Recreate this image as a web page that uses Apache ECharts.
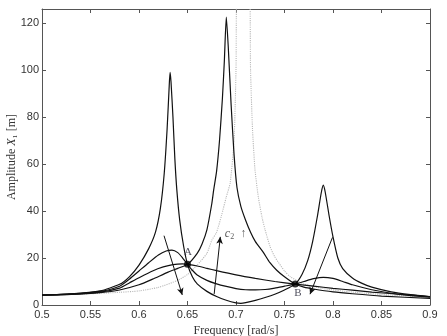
<!doctype html>
<html>
<head>
<meta charset="utf-8">
<title></title>
<script src="https://cdn.jsdelivr.net/npm/echarts@6/dist/echarts.min.js"></script>
<style type="text/css">
  html, body { margin: 0; padding: 0; background: #fff; }
  #chart { width: 447px; height: 336px; }
</style>
</head>
<body>
<div id="chart"></div>
<script type="text/javascript">
// [frequency rad/s, amplitude m]
var lowC = [[0.50,4.2],[0.53,4.7],[0.56,6.0],[0.58,8.8],[0.59,12],[0.60,17],[0.61,24],[0.617,31],[0.622,41],[0.626,56],[0.629,75],[0.631,92],[0.632,99],[0.633,95],[0.635,80],[0.637,62],[0.639,49],[0.642,36],[0.646,25],[0.65,17.3],[0.655,12],[0.66,9],[0.67,5.8],[0.68,3.6],[0.69,2.0],[0.70,0.9],[0.705,0.7],[0.71,1.0],[0.72,2.0],[0.73,3.2],[0.74,4.6],[0.75,6.4],[0.761,8.9],[0.768,13],[0.774,19],[0.779,27],[0.784,38],[0.788,48],[0.790,51],[0.792,48],[0.796,38],[0.800,29],[0.805,20],[0.81,15.5],[0.82,11.5],[0.83,9.2],[0.84,7.6],[0.86,5.6],[0.88,4.4],[0.90,3.5]];
var midC = [[0.50,4.2],[0.53,4.7],[0.56,5.8],[0.58,8.0],[0.59,11],[0.60,14.5],[0.61,18],[0.62,21.3],[0.628,23],[0.634,23.4],[0.64,22.3],[0.645,20],[0.65,17.3],[0.655,14.8],[0.66,12.8],[0.67,10.5],[0.68,9.0],[0.69,7.9],[0.70,7.0],[0.71,6.5],[0.72,6.4],[0.73,6.6],[0.74,7.2],[0.75,8.0],[0.761,8.9],[0.77,10.0],[0.78,11.2],[0.79,11.8],[0.80,11.3],[0.81,10.0],[0.82,8.6],[0.84,6.5],[0.86,5.0],[0.88,4.0],[0.90,3.3]];
var optC = [[0.50,4.2],[0.53,4.6],[0.56,5.5],[0.58,7.2],[0.59,9.4],[0.60,11.6],[0.614,14.5],[0.625,16.2],[0.635,17.2],[0.645,17.5],[0.65,17.3],[0.66,16.6],[0.67,15.6],[0.68,14.6],[0.70,12.8],[0.72,11.3],[0.74,10.0],[0.761,8.9],[0.78,8.0],[0.80,7.1],[0.82,6.3],[0.84,5.5],[0.87,4.5],[0.90,3.6]];
var highC = [[0.50,4.2],[0.53,4.5],[0.56,5.3],[0.58,6.4],[0.60,8.6],[0.614,11],[0.63,14],[0.64,15.6],[0.65,17.3],[0.66,22],[0.665,26],[0.67,32],[0.675,43],[0.677,49],[0.68,57],[0.683,70],[0.686,88],[0.688,104],[0.690,122.5],[0.692,110],[0.695,85],[0.698,64],[0.701,50],[0.705,42],[0.71,36],[0.715,31],[0.72,27],[0.728,22.5],[0.735,18],[0.742,14.8],[0.75,12],[0.761,8.9],[0.77,7.6],[0.78,6.8],[0.80,5.6],[0.82,4.8],[0.85,3.8],[0.90,2.8]];
var noAbsorber = [[0.50,4.2],[0.55,4.8],[0.58,5.4],[0.60,6.0],[0.62,7.5],[0.64,10.5],[0.65,13],[0.66,17],[0.67,22],[0.675,27.5],[0.68,31],[0.685,38],[0.69,46],[0.694,52],[0.698,70],[0.700,100],[0.7015,140],[0.7135,140],[0.715,100],[0.717,75],[0.7195,58],[0.723,46],[0.727,37],[0.73,32],[0.735,25],[0.74,20.5],[0.75,14.5],[0.756,12],[0.77,9],[0.79,7],[0.82,5.5],[0.86,4.2],[0.90,3.4]];

var fixedPoints = [[0.65,17.3],[0.761,8.9]];
var pointNames = ['A','B'];
var pointLabelPos = [[0.6505,22.6],[0.7639,5.0]];
var arrows = [
  [[0.6258,29.5],[0.6446,4.3]],
  [[0.6775,4.7],[0.6838,29.0]],
  [[0.7995,28.8],[0.7763,4.6]]
];
var c2LabelPos = [0.6995,30.2];

var xTicks = { min:0.5, max:0.9, step:0.05 };
var yTicks = { min:0, max:126, step:20 };

var chart = echarts.init(document.getElementById('chart'));
var axisColor = '#555';
var tickFont = 'Liberation Sans, Arial, sans-serif';
var serif = 'Liberation Serif, Times New Roman, serif';

function curve(name, data, style){
  return {
    name: name, type: 'line', data: data,
    showSymbol: false, smooth: 0.2, silent: true,
    xAxisIndex: 0, yAxisIndex: 0,
    lineStyle: style, z: 3
  };
}
var blackLine = { color:'#111', width:1.2 };

var series = [
  curve('no absorber', noAbsorber, { color:'#b8b8b8', width:1.1, type:'dotted' }),
  curve('c2 low', lowC, blackLine),
  curve('c2 mid', midC, blackLine),
  curve('c2 opt', optC, blackLine),
  curve('c2 high', highC, blackLine),
  {
    name:'arrows', type:'line', data:[], silent:true,
    markLine: {
      silent:true, symbol:['none','arrow'], symbolSize:[5,7],
      label:{ show:false },
      lineStyle:{ color:'#111', width:1, type:'solid' },
      data: arrows.map(function(a){ return [{coord:a[0]},{coord:a[1]}]; })
    }
  },
  {
    name:'fixed', type:'scatter', symbolSize:7, silent:true, z:5,
    itemStyle:{ color:'#000' },
    data: fixedPoints
  },
  {
    name:'labels', type:'scatter', symbolSize:0, silent:true, z:6,
    data: pointLabelPos.map(function(p,i){ return { value:p, name:pointNames[i] }; })
      .concat([{ value:c2LabelPos, name:'c2' }]),
    label:{
      show:true, position:'inside',
      fontFamily: serif, fontSize:11, color:'#223',
      formatter:function(d){
        if(d.name === 'c2') return '{i|c}{s|2}{a|  ↑}';
        return d.name;
      },
      rich:{
        i:{ fontFamily: serif, fontStyle:'italic', fontSize:12, color:'#333' },
        s:{ fontFamily: serif, fontSize:8, color:'#333', padding:[5,0,0,0] },
        a:{ fontFamily: serif, fontSize:12, color:'#333' }
      }
    }
  }
];

var option = {
  animation:false,
  backgroundColor:'#fff',
  grid:{ left:42, right:17, top:9, bottom:31, outerBoundsMode:'none', containLabel:false },
  xAxis:[{
    type:'value', min:xTicks.min, max:xTicks.max, interval:xTicks.step,
    name:'Frequency [rad/s]', nameLocation:'middle', nameGap:19,
    nameTextStyle:{ fontFamily:serif, fontSize:12, color:'#333' },
    axisLine:{ onZero:false, lineStyle:{ color:axisColor, width:1 } },
    axisTick:{ inside:true, length:4, lineStyle:{ color:axisColor } },
    axisLabel:{ fontFamily:tickFont, fontSize:11, color:'#333', margin:4,
      formatter:function(v){ return String(+v.toFixed(2)); } },
    splitLine:{ show:false }
  },{
    type:'value', position:'top', min:xTicks.min, max:xTicks.max, interval:xTicks.step,
    axisLine:{ onZero:false, lineStyle:{ color:axisColor, width:1 } },
    axisTick:{ inside:true, length:4, lineStyle:{ color:axisColor } },
    axisLabel:{ show:false }, splitLine:{ show:false }
  }],
  yAxis:[{
    type:'value', min:yTicks.min, max:yTicks.max, interval:yTicks.step,
    name:'{a|Amplitude }{i|X}{a|₁ [m]}', nameLocation:'middle', nameGap:24,
    nameMoveOverlap:false,
    nameTextStyle:{ fontFamily:serif, fontSize:12, color:'#333',
      rich:{ a:{ fontFamily:serif, fontSize:12, color:'#333' },
             i:{ fontFamily:serif, fontSize:12, fontStyle:'italic', color:'#333' } } },
    axisLine:{ onZero:false, lineStyle:{ color:axisColor, width:1 } },
    axisTick:{ inside:true, length:4, lineStyle:{ color:axisColor } },
    axisLabel:{ fontFamily:tickFont, fontSize:11, color:'#333', margin:3, showMaxLabel:false },
    splitLine:{ show:false }
  },{
    type:'value', position:'right', min:yTicks.min, max:yTicks.max, interval:yTicks.step,
    axisLine:{ onZero:false, lineStyle:{ color:axisColor, width:1 } },
    axisTick:{ inside:true, length:4, lineStyle:{ color:axisColor } },
    axisLabel:{ show:false }, splitLine:{ show:false }
  }],
  series: series
};
chart.setOption(option);
</script>
</body>
</html>
